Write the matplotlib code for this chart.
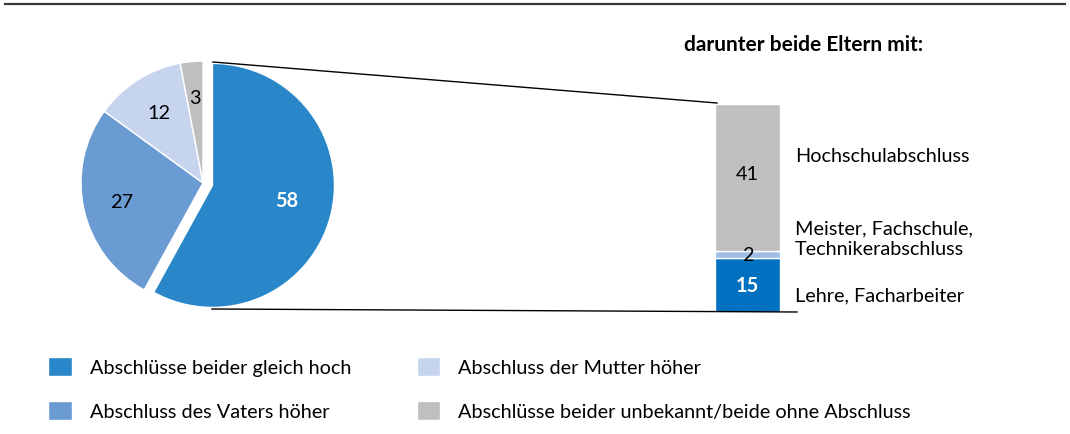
import matplotlib
matplotlib.use('Agg')
import matplotlib.pyplot as plt
from matplotlib.lines import Line2D

plt.rcParams['font.family'] = ['Lato', 'DejaVu Sans']

# Daten
pie_labels = ['Abschlüsse beider gleich hoch', 'Abschluss des Vaters höher',
              'Abschluss der Mutter höher', 'Abschlüsse beider unbekannt/beide ohne Abschluss']
pie_values = [58, 27, 12, 3]
pie_colors = ['#2986c8', '#6a9bd3', '#c6d4ee', '#bfbfbf']

bar_labels = ['Lehre, Facharbeiter', 'Meister, Fachschule,\nTechnikerabschluss', 'Hochschulabschluss']
bar_values = [15, 2, 41]
bar_colors = ['#0070c0', '#9dbde6', '#bfbfbf']

FS = 14.3
W, H = 1070, 435
fig = plt.figure(figsize=(W / 100, H / 100), dpi=100)


def fx(px):
    return px / W


def fy(py):
    return 1 - py / H


# obere Linie
fig.add_artist(Line2D([fx(5), fx(1065)], [fy(5), fy(5)], color='#3a3a3a', lw=1.6))

# Kreisdiagramm
cx, cy, r, half = 203, 184, 122, 135
ax_pie = fig.add_axes([fx(cx - half), fy(cy + half), (2 * half) / W, (2 * half) / H])
wedges, _, autotexts = ax_pie.pie(
    pie_values, colors=pie_colors, startangle=90, counterclock=False,
    explode=[0.08, 0, 0, 0], radius=1, autopct=lambda p: f'{p:.0f}', pctdistance=0.68,
    wedgeprops=dict(edgecolor='white', linewidth=1), textprops=dict(fontsize=FS))
autotexts[0].set_color('white')
autotexts[0].set_fontweight('bold')
x0, y0 = autotexts[0].get_position()
autotexts[0].set_position((x0 * 0.93, y0 * 0.75))
x3, y3 = autotexts[3].get_position()
autotexts[3].set_position((x3, y3 * 1.03))
lim = half / r
ax_pie.set_xlim(-lim, lim)
ax_pie.set_ylim(-lim, lim)
ax_pie.set_aspect('equal')
ax_pie.axis('off')

# gestapelte Säule
bx0, bx1, by0, by1 = 715, 780, 105, 313
ax_bar = fig.add_axes([fx(bx0), fy(by1), (bx1 - bx0) / W, (by1 - by0) / H])
bottom = 0
for i, (v, c) in enumerate(zip(bar_values, bar_colors)):
    ax_bar.bar(0, v, bottom=bottom, width=1, color=c, edgecolor='white', linewidth=1)
    ax_bar.text(0, bottom + v / 2 + (1 if v > 20 else 0), str(v), ha='center', va='center',
                fontsize=FS, color='white' if i == 0 else 'black',
                fontweight='bold' if i == 0 else 'normal')
    bottom += v
ax_bar.set_xlim(-0.5, 0.5)
ax_bar.set_ylim(0, sum(bar_values))
ax_bar.axis('off')

# Beschriftungen rechts
label_y = [296, 239, 157]
for lab, y in zip(bar_labels, label_y):
    fig.text(fx(795), fy(y), lab, ha='left', va='center', fontsize=FS, linespacing=1.25)

fig.text(fx(804), fy(45), 'darunter beide Eltern mit:', ha='center', va='center',
         fontsize=15, fontweight='bold')

# Verbindungslinien
fig.add_artist(Line2D([fx(213), fx(717)], [fy(63), fy(104)], color='black', lw=1))
fig.add_artist(Line2D([fx(212), fx(797)], [fy(310), fy(313)], color='black', lw=1))

# Legende
fig.legend(wedges, pie_labels, ncol=2, loc='upper left', bbox_to_anchor=(fx(30), fy(340)),
           frameon=False, fontsize=FS, handlelength=1.2, handleheight=1.1,
           handletextpad=0.9, columnspacing=3.3, labelspacing=1.25)

plt.savefig('out.png', dpi=100)
